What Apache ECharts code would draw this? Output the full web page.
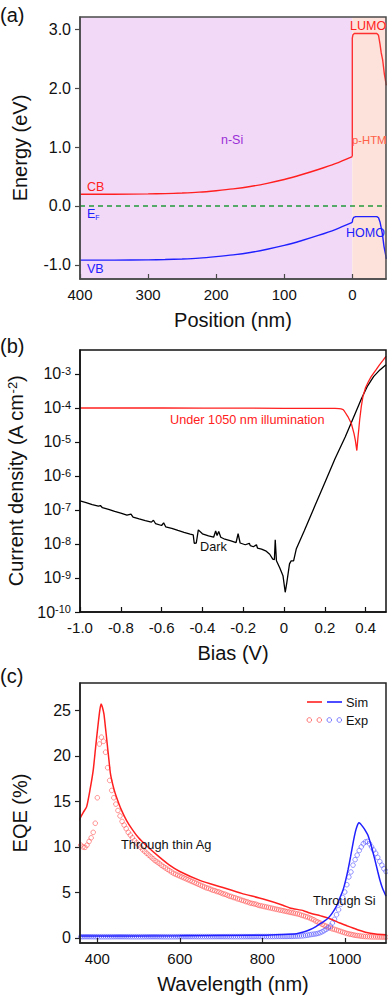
<!DOCTYPE html>
<html><head><meta charset="utf-8">
<script src="https://cdn.jsdelivr.net/npm/echarts@6/dist/echarts.min.js"></script>
<style>html,body{margin:0;padding:0;background:#fff;}#c{width:388px;height:998px;}</style>
</head><body><div id="c"></div>
<script>
// ---------- Panel (a): band diagram ----------
const posSi = [400,350,300,275,250,225,200,175,150,125,100,75,50,25,0];
const cbSi  = [0.20,0.20,0.205,0.21,0.22,0.235,0.26,0.29,0.33,0.385,0.45,0.53,0.62,0.72,0.84];
const vbSi  = [-0.92,-0.92,-0.915,-0.91,-0.90,-0.885,-0.86,-0.83,-0.79,-0.735,-0.67,-0.59,-0.50,-0.40,-0.28];
const posLumo = [0,0,-1,-3,-20,-36,-38.5,-40.7,-42.5,-44.6,-47,-50];
const lumo    = [0.84,2.85,2.91,2.93,2.93,2.93,2.9,2.75,2.6,2.48,2.25,2.05];
const posHomo = [0,-0.5,-2,-5,-20,-36,-38.5,-40.7,-44,-46.6,-48.5,-50];
const homo    = [-0.28,-0.23,-0.195,-0.18,-0.18,-0.18,-0.2,-0.27,-0.46,-0.69,-0.8,-0.9];
const efPos = [400,-50];
const efE   = [0,0];
const aTicksX = [400,300,200,100,0];
const aTicksY = [-1,0,1,2,3];

// ---------- Panel (b): J-V ----------
const darkV = [-1.0,-0.97,-0.94,-0.91,-0.90,-0.89,-0.86,-0.83,-0.80,-0.77,-0.75,-0.74,-0.71,-0.68,-0.65,-0.64,-0.63,-0.60,-0.59,-0.58,-0.55,-0.52,-0.49,-0.46,-0.445,-0.44,-0.43,-0.42,-0.40,-0.37,-0.345,-0.335,-0.328,-0.32,-0.31,-0.29,-0.26,-0.235,-0.225,-0.215,-0.19,-0.17,-0.165,-0.15,-0.135,-0.13,-0.11,-0.09,-0.07,-0.055,-0.047,-0.043,-0.037,-0.021,-0.005,0.006,0.014,0.027,0.035,0.047,0.06,0.10,0.15,0.20,0.25,0.30,0.35,0.38,0.41,0.44,0.47,0.50];
const darkJ = [1.86e-7,1.66e-7,1.45e-7,1.29e-7,1.35e-7,1.17e-7,1.05e-7,9.1e-8,8.1e-8,7.1e-8,7.6e-8,6.2e-8,5.5e-8,4.9e-8,4.4e-8,5.0e-8,4.0e-8,3.5e-8,4.2e-8,3.2e-8,2.9e-8,2.5e-8,2.2e-8,1.95e-8,1.86e-8,1.05e-8,1.07e-8,2.6e-8,2.0e-8,1.74e-8,1.58e-8,2.4e-8,1.78e-8,2.35e-8,1.58e-8,1.38e-8,1.23e-8,1.10e-8,2.0e-8,1.07e-8,9.5e-9,1.05e-8,8.9e-9,8.3e-9,9.5e-9,7.6e-9,7.1e-9,6.3e-9,5.0e-9,3.6e-9,3.5e-9,1.32e-8,3.2e-9,2.0e-9,1.17e-9,3.8e-10,7.4e-10,2.6e-9,3.2e-9,3.2e-9,7.1e-9,2.5e-8,1.26e-7,6.3e-7,3.2e-6,1.41e-5,7.1e-5,1.9e-4,4.5e-4,8.5e-4,1.32e-3,1.86e-3];
const illumV = [-1.0,-0.8,-0.6,-0.4,-0.2,0,0.1,0.2,0.25,0.27,0.28,0.29,0.297,0.313,0.33,0.343,0.35,0.354,0.357,0.36,0.362,0.367,0.371,0.379,0.387,0.40,0.414,0.428,0.45,0.468,0.485,0.50];
const illumJ = [1.0e-4,1.0e-4,1.0e-4,0.99e-4,0.99e-4,0.98e-4,0.98e-4,0.98e-4,0.97e-4,0.96e-4,9.4e-5,9.0e-5,7.9e-5,5.6e-5,3.5e-5,1.8e-5,1.1e-5,7.4e-6,5.6e-6,8.9e-6,1.26e-5,2.5e-5,4.5e-5,1.12e-4,2.2e-4,4.0e-4,6.0e-4,8.5e-4,1.3e-3,1.86e-3,2.5e-3,3.3e-3];
const bTicksX = [-1.0,-0.8,-0.6,-0.4,-0.2,0,0.2,0.4];
const bTicksY = [1e-10,1e-9,1e-8,1e-7,1e-6,1e-5,1e-4,1e-3];

// ---------- Panel (c): EQE ----------
const simRedWl = [355,360,366,374,382,390,396,402,406,409,412,416,420,424,428,432,440,447,458,471,485,500,520,550,575,600,650,700,750,800,850,867,900,915,947,970,988,1005,1020,1035,1053,1075,1100];
const simRed   = [12.9,13.3,13.8,14.4,16.2,18.4,21.0,23.5,25.0,25.7,25.4,24.6,23.0,21.3,19.6,18.0,16.4,15.4,14.1,12.9,11.9,11.0,10.1,8.9,8.0,7.3,6.3,5.6,4.9,4.3,3.6,3.3,3.0,2.75,2.35,2.0,1.64,1.35,1.1,0.85,0.6,0.45,0.35];
const simBlueWl = [355,600,800,850,883,900,915,930,943,955,964,972,980,988,996,1002,1008,1014,1020,1026,1030,1034,1038,1044,1050,1056,1065,1073,1080,1085,1092,1100];
const simBlue   = [0.22,0.24,0.3,0.38,0.47,0.65,0.9,1.25,1.64,2.0,2.4,2.9,3.5,4.4,5.3,6.3,7.5,8.9,10.4,11.7,12.3,12.65,12.55,12.2,11.8,11.3,10.0,8.6,7.3,6.4,5.4,4.6];
const expWl = [
 355,360,365,370,375,380,385,390,395,400,
 405,410,415,420,425,430,435,440,445,450,
 455,460,465,470,475,480,485,490,495,500,
 505,510,515,520,525,530,535,540,545,550,
 555,560,565,570,575,580,585,590,595,600,
 605,610,615,620,625,630,635,640,645,650,
 655,660,665,670,675,680,685,690,695,700,
 705,710,715,720,725,730,735,740,745,750,
 755,760,765,770,775,780,785,790,795,800,
 805,810,815,820,825,830,835,840,845,850,
 855,860,865,870,875,880,885,890,895,900,
 905,910,915,920,925,930,935,940,945,950,
 955,960,965,970,975,980,985,990,995,1000,
 1005,1010,1015,1020,1025,1030,1035,1040,1045,1050,
 1055,1060,1065,1070,1075,1080,1085,1090,1095,1100];
const expRed = [
 10.5,10.2,10.0,9.95,10.2,10.6,11.0,11.6,12.6,15.4,
 21.3,22.05,21.6,20.4,18.7,17.3,16.2,15.4,14.7,14.0,
 13.4,12.8,12.4,12.0,11.6,11.3,11.0,10.7,10.45,10.2,
 9.95,9.7,9.5,9.3,9.1,8.9,8.7,8.5,8.35,8.2,
 8.0,7.85,7.7,7.55,7.4,7.25,7.1,7.0,6.9,6.8,
 6.7,6.6,6.5,6.4,6.3,6.2,6.1,6.0,5.9,5.8,
 5.7,5.6,5.5,5.45,5.35,5.25,5.2,5.1,5.05,4.95,
 4.85,4.8,4.7,4.6,4.55,4.45,4.4,4.3,4.25,4.15,
 4.1,4.0,3.95,3.85,3.8,3.75,3.7,3.6,3.55,3.5,
 3.45,3.4,3.35,3.3,3.25,3.2,3.15,3.1,3.05,3.0,
 2.95,2.9,2.85,2.8,2.75,2.7,2.65,2.6,2.5,2.45,
 2.35,2.3,2.2,2.1,2.0,1.85,1.75,1.65,1.5,1.4,
 1.3,1.2,1.1,1.0,0.95,0.88,0.8,0.73,0.65,0.58,
 0.5,0.45,0.4,0.35,0.3,0.27,0.24,0.2,0.18,0.16,
 0.15,0.14,0.13,0.12,0.12,0.11,0.11,0.1,0.1,0.1];
const expBlue = [
 0.14,0.14,0.14,0.14,0.14,0.14,0.14,0.14,0.14,0.14,
 0.14,0.14,0.14,0.14,0.14,0.14,0.14,0.14,0.14,0.14,
 0.14,0.14,0.14,0.14,0.14,0.14,0.14,0.14,0.14,0.14,
 0.14,0.14,0.14,0.14,0.14,0.14,0.14,0.14,0.14,0.14,
 0.14,0.14,0.14,0.14,0.14,0.14,0.14,0.14,0.14,0.15,
 0.15,0.15,0.15,0.15,0.15,0.15,0.15,0.15,0.15,0.15,
 0.15,0.15,0.15,0.15,0.15,0.15,0.15,0.15,0.15,0.15,
 0.15,0.15,0.15,0.15,0.15,0.15,0.15,0.15,0.15,0.15,
 0.15,0.15,0.15,0.15,0.15,0.15,0.16,0.16,0.16,0.16,
 0.16,0.16,0.16,0.16,0.16,0.16,0.17,0.17,0.17,0.17,
 0.17,0.17,0.18,0.18,0.19,0.2,0.21,0.22,0.23,0.25,
 0.28,0.31,0.35,0.39,0.42,0.45,0.5,0.58,0.68,0.8,
 0.95,1.1,1.3,1.65,2.05,2.55,3.1,3.7,4.45,5.05,
 5.85,6.7,7.25,8.0,8.6,9.1,9.6,10.0,10.35,10.55,
 10.6,10.35,10.0,9.65,9.3,8.85,8.4,8.0,7.6,7.3];
const cTicksX = [400,600,800,1000];
const cTicksY = [0,5,10,15,20,25];

// ---------- build ----------
const FONT = '"Liberation Sans", Arial, Helvetica, sans-serif';
const zip = (a, b) => a.map((v, i) => [v, b[i]]);
const RED = '#ff1f1f', BLUE = '#2020ff';

function gridOf(top, height, border) {
  return { left: 80, width: 306, top: top, height: height, show: true, z: 5,
           backgroundColor: 'transparent', borderColor: border, borderWidth: 1.5,
           containLabel: false, outerBoundsMode: 'none' };
}
function xAxisOf(gi, min, max, ticks, fmt, name, inverse, lineColor) {
  return { type: 'value', gridIndex: gi, min: min, max: max, inverse: !!inverse, z: 6,
    axisLine: { show: true, onZero: false, lineStyle: { color: lineColor, width: 1.5 } },
    axisTick: { show: true, inside: true, length: 5, customValues: ticks, lineStyle: { color: lineColor, width: 1.2 } },
    axisLabel: { show: true, customValues: ticks, formatter: fmt, margin: 8, color: '#111', fontSize: 15, fontFamily: FONT },
    splitLine: { show: false },
    name: name, nameLocation: 'middle', nameGap: 31,
    nameTextStyle: { color: '#111', fontSize: 20, fontFamily: FONT } };
}
function yAxisOf(gi, type, min, max, ticks, fmt, name, nameRich, lineColor) {
  const ax = { type: type, gridIndex: gi, min: min, max: max, z: 6,
    axisLine: { show: true, onZero: false, lineStyle: { color: lineColor, width: 1.5 } },
    axisTick: { show: true, inside: false, length: 5, customValues: ticks, lineStyle: { color: lineColor, width: 1.2 } },
    axisLabel: { show: true, customValues: ticks, formatter: fmt, margin: 9, color: '#111', fontSize: 16, fontFamily: FONT,
      rich: { s: { fontSize: 11, fontFamily: FONT, color: '#111', verticalAlign: 'top', padding: [0, 0, 6, 0] } } },
    splitLine: { show: false },
    name: name, nameLocation: 'middle', nameGap: 50,
    nameTextStyle: { color: '#111', fontSize: 20, fontFamily: FONT, rich: nameRich } };
  if (type === 'log') ax.logBase = 10;
  return ax;
}

const option = {
  animation: false,
  backgroundColor: '#fff',
  grid: [gridOf(17, 262, '#4a4a4a'), gridOf(350, 262, '#111'), gridOf(683, 260, '#222')],
  xAxis: [
    xAxisOf(0, -49.5, 400, aTicksX, v => String(v), 'Position (nm)', true, '#4a4a4a'),
    xAxisOf(1, -1.0, 0.5, bTicksX, v => (Math.abs(v) < 1e-9 ? '0' : v.toFixed(1)), 'Bias (V)', false, '#111'),
    xAxisOf(2, 358, 1100, cTicksX, v => String(v), 'Wavelength (nm)', false, '#222')
  ],
  yAxis: [
    yAxisOf(0, 'value', -1.24, 3.21, aTicksY, v => v.toFixed(1), 'Energy (eV)', {}, '#4a4a4a'),
    yAxisOf(1, 'log', 1e-10, 5.08e-3, bTicksY, v => '10{s|' + Math.round(Math.log10(v)) + '}',
      'Current density (A cm{s|-2})', { s: { fontSize: 13, fontFamily: FONT, color: '#111', verticalAlign: 'top', padding: [0, 0, 8, 0] } }, '#111'),
    yAxisOf(2, 'value', -0.55, 28.0, cTicksY, v => String(v), 'EQE (%)', {}, '#222')
  ],
  series: [
    // (a) background regions
    { type: 'line', xAxisIndex: 0, yAxisIndex: 0, data: [], z: 1, silent: true,
      markArea: { silent: true, data: [
        [{ xAxis: 400, itemStyle: { color: '#F3D9F8' } }, { xAxis: 0 }],
        [{ xAxis: 0, itemStyle: { color: '#FCE2DA' } }, { xAxis: -49.5 }]
      ] } },
    { type: 'line', xAxisIndex: 0, yAxisIndex: 0, data: zip(efPos, efE), symbol: 'none', z: 3,
      lineStyle: { color: '#239b3a', width: 1.3, type: [5, 4] } },
    { type: 'line', xAxisIndex: 0, yAxisIndex: 0, data: zip(posSi, cbSi), symbol: 'none', smooth: 0.3, z: 3,
      lineStyle: { color: RED, width: 1.4 } },
    { type: 'line', xAxisIndex: 0, yAxisIndex: 0, data: zip(posLumo, lumo), symbol: 'none', z: 3,
      lineStyle: { color: '#ff3030', width: 1.4 } },
    { type: 'line', xAxisIndex: 0, yAxisIndex: 0, data: zip(posSi, vbSi), symbol: 'none', smooth: 0.3, z: 3,
      lineStyle: { color: BLUE, width: 1.4 } },
    { type: 'line', xAxisIndex: 0, yAxisIndex: 0, data: zip(posHomo, homo), symbol: 'none', z: 3,
      lineStyle: { color: BLUE, width: 1.4 } },
    // (b)
    { type: 'line', xAxisIndex: 1, yAxisIndex: 1, data: zip(darkV, darkJ), symbol: 'none', z: 3,
      lineStyle: { color: '#000', width: 1.3 } },
    { type: 'line', xAxisIndex: 1, yAxisIndex: 1, data: zip(illumV, illumJ), symbol: 'none', z: 3,
      lineStyle: { color: RED, width: 1.3 } },
    // (c)
    { type: 'scatter', xAxisIndex: 2, yAxisIndex: 2, data: zip(expWl, expRed), symbol: 'circle', symbolSize: 4.6, z: 2,
      itemStyle: { color: 'rgba(0,0,0,0)', borderColor: '#ff5555', borderWidth: 0.8 } },
    { type: 'scatter', xAxisIndex: 2, yAxisIndex: 2, data: zip(expWl, expBlue), symbol: 'circle', symbolSize: 4.6, z: 2,
      itemStyle: { color: 'rgba(0,0,0,0)', borderColor: '#5a5aff', borderWidth: 0.8 } },
    { type: 'line', xAxisIndex: 2, yAxisIndex: 2, data: zip(simRedWl, simRed), symbol: 'none', z: 3, smooth: 0.2,
      lineStyle: { color: RED, width: 1.5 } },
    { type: 'line', xAxisIndex: 2, yAxisIndex: 2, data: zip(simBlueWl, simBlue), symbol: 'none', z: 3, smooth: 0.2,
      lineStyle: { color: BLUE, width: 1.5 } }
  ],
  graphic: { elements: [
    T('(a)', 0, 15, 20, '#111'),
    T('(b)', 0, 346, 20, '#111'),
    T('(c)', 0, 676, 20, '#111'),
    T('LUMO', 350, 26, 12.5, '#ff2020'),
    T('p-HTM', 352, 140, 11.3, '#ff6048'),
    T('n-Si', 221, 140, 12.5, '#9a2fd6'),
    T('CB', 87, 187, 12.5, '#ff2020'),
    { type: 'text', x: 87, y: 214, z: 20, style: { text: 'E{f|F}', fontSize: 12.5, fontFamily: FONT, fill: BLUE,
        align: 'left', verticalAlign: 'middle', rich: { f: { fontSize: 7, fontFamily: FONT, fill: BLUE, verticalAlign: 'bottom', padding: [6, 0, 0, 0] } } } },
    T('HOMO', 346, 232.5, 12.5, BLUE),
    T('VB', 87, 269, 12.5, BLUE),
    T('Under 1050 nm illumination', 170, 420, 12.7, '#ff2020'),
    T('Dark', 200, 547, 12.7, '#111'),
    T('Through thin Ag', 121, 844, 12.8, '#111'),
    T('Through Si', 313, 900, 12.8, '#111'),
    { type: 'line', z: 20, shape: { x1: 307, y1: 702, x2: 322, y2: 702 }, style: { stroke: RED, lineWidth: 1.6 } },
    { type: 'line', z: 20, shape: { x1: 327, y1: 702, x2: 342, y2: 702 }, style: { stroke: BLUE, lineWidth: 1.6 } },
    T('Sim', 346, 702, 12.8, '#111'),
    C(309.3, 720, '#ff5555'), C(319.3, 720, '#ff5555'), C(329.3, 720, '#5a5aff'), C(339.3, 720, '#5a5aff'),
    T('Exp', 346, 720, 12.8, '#111')
  ] }
};
function T(text, x, y, size, color) {
  return { type: 'text', x: x, y: y, z: 20, style: { text: text, fontSize: size, fontFamily: FONT, fill: color,
    align: 'left', verticalAlign: 'middle', textAlign: 'left', textVerticalAlign: 'middle' } };
}
function C(x, y, color) {
  return { type: 'circle', z: 20, shape: { cx: x, cy: y, r: 2.3 }, style: { fill: 'none', stroke: color, lineWidth: 0.8 } };
}
const chart = echarts.init(document.getElementById('c'), null, { renderer: 'svg', width: 388, height: 998 });
chart.setOption(option);
</script>
</body></html>
